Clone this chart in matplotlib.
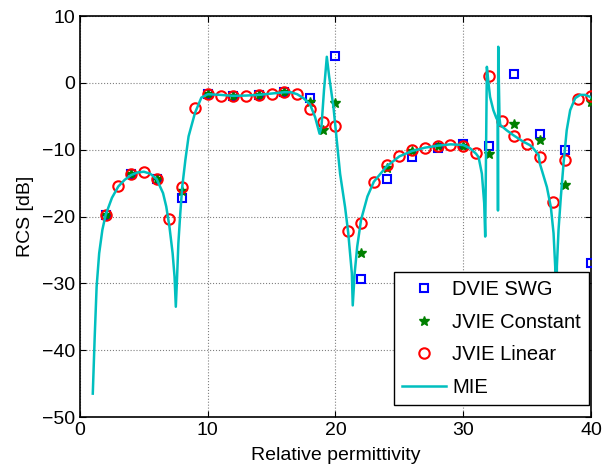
import numpy as np
import matplotlib.pyplot as plt

plt.rcParams['font.family'] = ['Liberation Sans', 'DejaVu Sans']

# JVIE linear basis: every integer permittivity
eps_lin = np.arange(2, 41)
rcs_lin = [-19.8, -15.5, -13.7, -13.3, -14.4, -20.3, -15.6, -3.8, -1.7, -1.9,
           -2.0, -1.95, -1.85, -1.6, -1.3, -1.6, -3.95, -5.9, -6.5, -22.2,
           -21.0, -14.9, -12.3, -11.0, -10.1, -9.7, -9.5, -9.3, -9.4, -10.5,
           1.0, -5.7, -7.9, -9.1, -11.1, -17.9, -11.6, -2.4, -1.95]

# DVIE SWG: even permittivities
eps_swg = np.arange(2, 41, 2)
rcs_swg = [-19.8, -13.7, -14.4, -17.2, -1.7, -2.0, -1.8, -1.3, -2.3, 4.0,
           -29.3, -14.4, -11.1, -9.8, -9.2, -9.4, 1.25, -7.7, -10.1, -26.9]

# JVIE constant basis
eps_con = [2, 4, 6, 8, 10, 12, 14, 16, 18, 19, 20, 22, 24, 26, 28, 30, 32, 34, 36, 38, 40]
rcs_con = [-19.8, -13.7, -14.4, -16.2, -1.7, -2.0, -1.8, -1.3, -2.8, -7.0, -3.0,
           -25.4, -12.8, -10.2, -9.5, -9.4, -10.7, -6.2, -8.6, -15.3, -2.85]

# analytical Mie reference
eps_mie = [1.0, 1.15, 1.3, 1.5, 1.75, 2.0, 2.5, 3.0, 3.5, 4.0, 4.5, 5.0, 5.5, 6.0,
           6.5, 6.75, 7.0, 7.25, 7.4, 7.5, 7.6, 7.7, 7.85, 8.0, 8.25, 8.5, 9.0,
           9.5, 10.0, 11.0, 12.0, 13.0, 14.0, 15.0, 16.0, 16.5, 17.0, 17.5, 18.0,
           18.4, 18.75, 18.9, 19.1, 19.32, 19.5, 19.84, 20.1, 20.36, 20.75, 21.0,
           21.28, 21.35, 21.5, 21.7, 22.0, 22.5, 23.0, 24.0, 25.0, 26.0, 27.0,
           28.0, 29.0, 30.0, 30.54, 31.0, 31.2, 31.46, 31.64, 31.72, 31.85, 31.98,
           32.1, 32.36, 32.6, 32.7, 32.72, 32.74, 32.84, 32.9, 33.4, 33.9, 34.7,
           35.2, 35.4, 35.9, 36.0, 36.55, 36.86, 37.07, 37.2, 37.3, 37.33, 37.46,
           37.64, 37.85, 38.1, 38.37, 38.76, 39.15, 39.55, 39.94, 40.0]
rcs_mie = [-46.5, -38.0, -30.5, -25.5, -22.0, -19.8, -17.2, -15.5, -14.5, -13.8,
           -13.4, -13.3, -13.6, -14.4, -16.5, -18.5, -21.5, -25.5, -29.0, -33.5,
           -29.0, -24.0, -19.5, -15.6, -11.5, -8.0, -4.5, -2.2, -1.7, -1.8,
           -1.95, -1.9, -1.8, -1.6, -1.4, -1.4, -1.7, -2.3, -3.2, -5.1, -7.6,
           -6.6, -1.1, 3.9, 1.0, -3.6, -8.6, -13.6, -18.6, -22.5, -28.5, -33.3,
           -28.5, -24.5, -20.5, -17.0, -14.8, -12.5, -11.0, -10.2, -9.7, -9.4,
           -9.2, -9.3, -9.8, -10.6, -11.1, -13.6, -18.0, -23.0, 2.4, -0.1, -2.1,
           -4.1, -5.3, -5.6, -19.1, 5.4, -5.3, -6.3, -7.1, -7.8, -8.8, -9.3,
           -9.6, -10.8, -12.1, -15.6, -18.6, -22.5, -27.5, -40.0, -27.5, -22.0,
           -17.1, -12.1, -7.1, -4.1, -2.3, -1.8, -1.8, -2.1, -2.2]

fig = plt.figure(figsize=(6.08, 4.71), dpi=100)
ax = fig.add_axes([0.1316, 0.1146, 0.8404, 0.8514])

ax.plot(eps_swg, rcs_swg, 's', markersize=5.5, markerfacecolor='none',
        markeredgecolor='blue', markeredgewidth=1.5, label='DVIE SWG', zorder=3)
ax.plot(eps_con, rcs_con, '*', markersize=7, color=(0, 0.5, 0),
        markeredgewidth=1.0, label='JVIE Constant', zorder=3)
ax.plot(eps_lin, rcs_lin, 'o', markersize=7.5, markerfacecolor='none',
        markeredgecolor='red', markeredgewidth=1.5, label='JVIE Linear', zorder=3)
ax.plot(eps_mie, rcs_mie, '-', color=(0, 0.75, 0.75), linewidth=1.8,
        label='MIE', zorder=4)

ax.set_xlim(0, 40)
ax.set_ylim(-50, 10)
ax.set_xticks([0, 10, 20, 30, 40])
ax.set_yticks([-50, -40, -30, -20, -10, 0, 10])
ax.tick_params(direction='in', top=True, right=True, labelsize=14, length=4)
ax.grid(True, linestyle=':', color='gray', linewidth=0.8)
for s in ax.spines.values():
    s.set_linewidth(1.2)

ax.set_xlabel('Relative permittivity', fontsize=14, labelpad=6)
ax.set_ylabel('RCS [dB]', fontsize=14, labelpad=6)

leg = ax.legend(loc='lower right', bbox_to_anchor=(0.996, 0.03),
                borderaxespad=0, fontsize=14.5, fancybox=False, framealpha=1,
                edgecolor='black', handlelength=2.2, handletextpad=0.3,
                labelspacing=0.68, borderpad=0.4)
leg.get_frame().set_linewidth(1.0)
leg.set_zorder(10)

fig.savefig('out.png', dpi=100)
